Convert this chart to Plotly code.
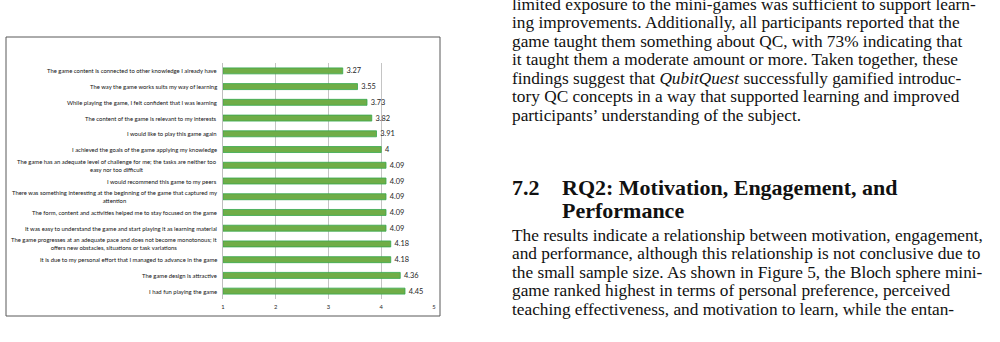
import plotly.graph_objects as go

# ---------------- data (top to bottom as shown) ----------------
categories = [
    "The game content is connected to other knowledge I already have",
    "The way the game works suits my way of learning",
    "While playing the game, I felt confident that I was learning",
    "The content of the game is relevant to my interests",
    "I would like to play this game again",
    "I achieved the goals of the game applying my knowledge",
    "The game has an adequate level of challenge for me; the tasks are neither too<br>easy nor too difficult",
    "I would recommend this game to my peers",
    "There was something interesting at the beginning of the game that captured my<br>attention",
    "The form, content and activities helped me to stay focused on the game",
    "It was easy to understand the game and start playing it as learning material",
    "The game progresses at an adequate pace and does not become monotonous; it<br>offers new obstacles, situations or task variations",
    "It is due to my personal effort that I managed to advance in the game",
    "The game design is attractive",
    "I had fun playing the game",
]
scores = [3.27, 3.55, 3.73, 3.82, 3.91, 4, 4.09, 4.09, 4.09, 4.09, 4.09, 4.18, 4.18, 4.36, 4.45]
score_labels = ["3.27", "3.55", "3.73", "3.82", "3.91", "4", "4.09", "4.09", "4.09", "4.09",
                "4.09", "4.18", "4.18", "4.36", "4.45"]
scale_min = 1
x_ticks = [1, 2, 3, 4, 5]

body_lines_1 = [
    "limited exposure to the mini-games was sufficient to support learn-",
    "ing improvements. Additionally, all participants reported that the",
    "game taught them something about QC, with 73% indicating that",
    "it taught them a moderate amount or more. Taken together, these",
    "findings suggest that <i>QubitQuest</i> successfully gamified introduc-",
    "tory QC concepts in a way that supported learning and improved",
    "participants\u2019 understanding of the subject.",
]
heading_number = "7.2"
heading_lines = ["RQ2: Motivation, Engagement, and", "Performance"]
body_lines_2 = [
    "The results indicate a relationship between motivation, engagement,",
    "and performance, although this relationship is not conclusive due to",
    "the small sample size. As shown in Figure 5, the Bloch sphere mini-",
    "game ranked highest in terms of personal preference, perceived",
    "teaching effectiveness, and motivation to learn, while the entan-",
]

# ---------------- layout geometry ----------------
W, H = 1000, 342
L, R, T, B = 223, 566, 63, 43
PW, PH = W - L - R, H - T - B


def px(x):
    return (x - L) / PW


def py(y):
    return (H - B - y) / PH


LABEL_FONT = "Lato, 'Open Sans', Arial, sans-serif"
SERIF = "'Liberation Serif', 'DejaVu Serif', serif"

fig = go.Figure()
fig.add_trace(go.Bar(
    x=[s - scale_min for s in scores],
    y=categories,
    base=scale_min,
    orientation="h",
    width=0.38,
    marker=dict(color="#70AD47", line=dict(color="#35A84E", width=0.8)),
    text=score_labels,
    texttemplate="\u00a0\u00a0%{text}",
    textposition="outside",
    constraintext="none",
    textfont=dict(family=LABEL_FONT, size=7.4, color="#262626"),
    cliponaxis=False,
    hoverinfo="skip",
))

annotations = []
for cat in categories:
    annotations.append(dict(
        xref="paper", yref="y", x=px(219), y=cat,
        xanchor="right", yanchor="middle", align="center",
        text=cat, showarrow=False,
        font=dict(family=LABEL_FONT, size=5.9, color="#111111"),
    ))

BODY_SIZE = 17.3
body_y1 = [4 + 18.6 * i for i in range(len(body_lines_1))]
for t, yy in zip(body_lines_1, body_y1):
    annotations.append(dict(xref="paper", yref="paper", x=px(510), y=py(yy),
                            xanchor="left", yanchor="middle", text=t, showarrow=False,
                            font=dict(family=SERIF, size=BODY_SIZE, color="#111111")))
HEAD_SIZE = 22
annotations.append(dict(xref="paper", yref="paper", x=px(510), y=py(187),
                        xanchor="left", yanchor="middle", text="<b>%s</b>" % heading_number,
                        showarrow=False, font=dict(family=SERIF, size=HEAD_SIZE, color="#111111")))
for t, yy in zip(heading_lines, [187, 210]):
    annotations.append(dict(xref="paper", yref="paper", x=px(560), y=py(yy),
                            xanchor="left", yanchor="middle", text="<b>%s</b>" % t,
                            showarrow=False, font=dict(family=SERIF, size=HEAD_SIZE, color="#111111")))
body_y2 = [235 + 18.5 * i for i in range(len(body_lines_2))]
for t, yy in zip(body_lines_2, body_y2):
    annotations.append(dict(xref="paper", yref="paper", x=px(510), y=py(yy),
                            xanchor="left", yanchor="middle", text=t, showarrow=False,
                            font=dict(family=SERIF, size=BODY_SIZE, color="#111111")))

shapes = [dict(type="rect", xref="paper", yref="paper",
               x0=px(6), x1=px(440), y0=py(316), y1=py(37),
               line=dict(color="#595959", width=1), fillcolor="rgba(0,0,0,0)", layer="below")]

fig.update_layout(
    width=W, height=H,
    margin=dict(l=L, r=R, t=T, b=B, pad=0),
    paper_bgcolor="white", plot_bgcolor="white",
    showlegend=False,
    annotations=annotations,
    shapes=shapes,
    xaxis=dict(
        range=[1, 5], tickvals=x_ticks, ticktext=[str(v) for v in x_ticks],
        showgrid=True, gridcolor="#C4C4C4", gridwidth=1,
        zeroline=False, showline=False, ticks="",
        ticklabelstandoff=3,
        tickfont=dict(family=LABEL_FONT, size=5.8, color="#262626"),
        fixedrange=True,
    ),
    yaxis=dict(
        categoryorder="array", categoryarray=categories, autorange="reversed",
        showticklabels=False, showgrid=False, zeroline=False,
        showline=True, linecolor="#BFBFBF", linewidth=1, ticks="",
        fixedrange=True,
    ),
)

fig.write_html("out.html", include_plotlyjs=True, full_html=True,
               config=dict(displayModeBar=False))
